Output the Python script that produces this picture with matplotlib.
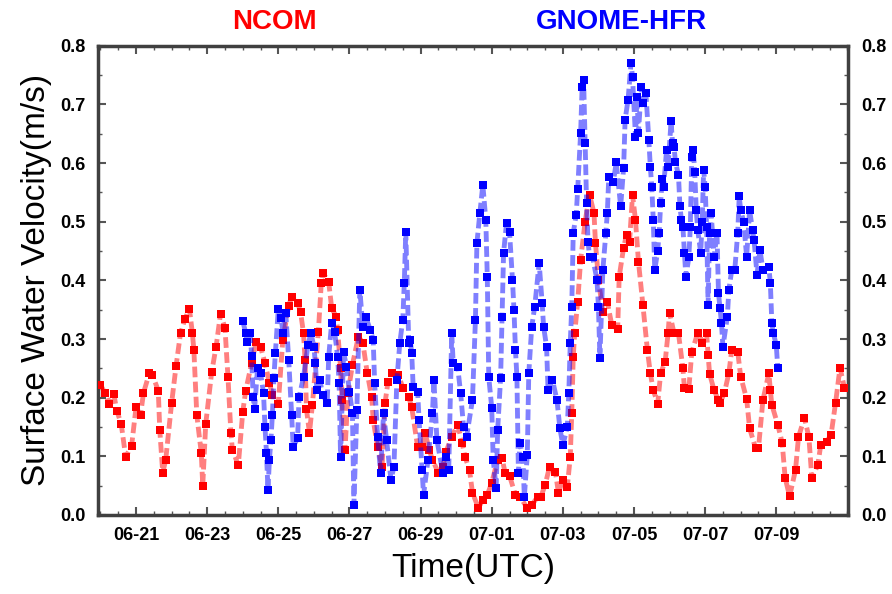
import numpy as np
import matplotlib
matplotlib.use('Agg')
import matplotlib.pyplot as plt
from matplotlib.ticker import MultipleLocator, FormatStrFormatter

plt.rcParams['font.family'] = ['Liberation Sans', 'DejaVu Sans']

# hours since 06-21 00:00 UTC, speed in m/s
ncom_hours = [-24, -21, -18, -15, -13, -10, -7, -3, 0, 3,
              5, 9, 11, 15, 16, 18, 20, 24, 27, 30,
              33, 36, 38, 39, 41, 44, 45, 47, 51, 54,
              57, 60, 62, 64, 65, 69, 72, 74, 78, 81,
              84, 87, 90, 92, 96, 99, 103, 105, 109, 111,
              113, 114, 115, 117, 119, 123, 125, 126, 130, 132,
              135, 136, 138, 139, 141, 143, 146, 150, 153, 156,
              159, 160, 163, 166, 168, 170, 173, 177, 180, 184,
              186, 190, 193, 195, 198, 200, 204, 207, 209, 213,
              217, 220, 222, 225, 227, 231, 234, 237, 240, 244,
              247, 249, 252, 256, 259, 264, 267, 271, 273, 276,
              279, 283, 285, 288, 291, 293, 294, 295, 296, 298,
              300, 303, 306, 309, 310, 312, 315, 318, 321, 325,
              326, 329, 331, 333, 335, 337, 339, 342, 345, 347,
              349, 352, 354, 357, 359, 360, 363, 366, 369, 370,
              373, 375, 379, 382, 385, 386, 387, 390, 393, 394,
              397, 400, 402, 406, 408, 412, 414, 418, 420, 423,
              427, 428, 429, 433, 436, 438, 441, 445, 447, 451,
              454, 456, 460, 462, 466, 469, 472, 475, 478]
ncom_speed = [0.222, 0.208, 0.190, 0.206, 0.178, 0.155, 0.099, 0.118, 0.184, 0.170,
              0.208, 0.242, 0.239, 0.212, 0.145, 0.072, 0.094, 0.191, 0.254, 0.310,
              0.334, 0.352, 0.310, 0.282, 0.170, 0.106, 0.050, 0.155, 0.243, 0.287,
              0.343, 0.319, 0.236, 0.140, 0.111, 0.085, 0.176, 0.212, 0.259, 0.295,
              0.287, 0.259, 0.225, 0.205, 0.190, 0.298, 0.357, 0.372, 0.362, 0.346,
              0.310, 0.265, 0.180, 0.140, 0.188, 0.312, 0.396, 0.413, 0.397, 0.353,
              0.338, 0.316, 0.250, 0.196, 0.110, 0.208, 0.256, 0.304, 0.294, 0.242,
              0.201, 0.162, 0.116, 0.082, 0.191, 0.227, 0.242, 0.239, 0.217, 0.201,
              0.184, 0.116, 0.116, 0.140, 0.110, 0.094, 0.072, 0.082, 0.107, 0.133,
              0.154, 0.123, 0.099, 0.077, 0.038, 0.012, 0.026, 0.034, 0.055, 0.094,
              0.097, 0.072, 0.067, 0.034, 0.031, 0.012, 0.017, 0.031, 0.030, 0.051,
              0.082, 0.073, 0.038, 0.060, 0.048, 0.099, 0.174, 0.270, 0.310, 0.363,
              0.435, 0.500, 0.546, 0.515, 0.464, 0.401, 0.346, 0.363, 0.324, 0.317,
              0.406, 0.456, 0.478, 0.466, 0.546, 0.503, 0.432, 0.358, 0.282, 0.242,
              0.213, 0.190, 0.242, 0.261, 0.310, 0.345, 0.310, 0.310, 0.250, 0.217,
              0.215, 0.278, 0.310, 0.294, 0.310, 0.273, 0.241, 0.213, 0.196, 0.191,
              0.208, 0.242, 0.282, 0.278, 0.236, 0.198, 0.148, 0.114, 0.114, 0.196,
              0.242, 0.213, 0.188, 0.154, 0.123, 0.063, 0.032, 0.077, 0.133, 0.166,
              0.133, 0.063, 0.085, 0.119, 0.125, 0.137, 0.191, 0.251, 0.217]

hfr_hours = [72, 74, 75, 77, 78, 79, 80, 82, 84, 86,
             87, 88, 89, 90, 91, 92, 93, 94, 96, 98,
             99, 101, 103, 105, 106, 109, 110, 113, 116, 118,
             120, 121, 122, 124, 126, 129, 130, 132, 134, 136,
             137, 138, 140, 142, 144, 146, 147, 149, 151, 153,
             155, 158, 160, 161, 163, 165, 167, 169, 172, 174,
             176, 178, 180, 181, 182, 184, 185, 186, 187, 190,
             191, 193, 194, 197, 200, 201, 203, 207, 209, 211,
             213, 214, 217, 219, 221, 223, 227, 229, 230, 232,
             234, 236, 237, 238, 240, 241, 243, 244, 246, 247,
             248, 250, 252, 254, 255, 256, 257, 258, 259, 261,
             262, 264, 265, 267, 269, 272, 274, 275, 277, 278,
             281, 284, 286, 288, 291, 292, 293, 294, 295, 297,
             298, 300, 301, 302, 303, 304, 305, 306, 308, 311,
             312, 313, 315, 317, 318, 319, 322, 324, 327, 329,
             330, 332, 334, 335, 337, 338, 339, 341, 342, 344,
             346, 347, 348, 349, 350, 352, 353, 354, 355, 356,
             358, 359, 361, 362, 363, 364, 366, 367, 368, 369,
             370, 371, 373, 374, 375, 376, 377, 378, 379, 381,
             382, 383, 384, 385, 386, 387, 388, 389, 390, 392,
             393, 394, 395, 396, 399, 400, 402, 404, 406, 407,
             408, 410, 412, 414, 416, 417, 419, 421, 423, 427,
             428, 429, 430, 432, 433]
hfr_speed = [0.331, 0.310, 0.295, 0.310, 0.271, 0.201, 0.181, 0.251, 0.242, 0.208,
             0.150, 0.106, 0.043, 0.094, 0.128, 0.171, 0.234, 0.276, 0.352, 0.336,
             0.310, 0.345, 0.265, 0.170, 0.116, 0.131, 0.201, 0.235, 0.290, 0.310,
             0.287, 0.259, 0.213, 0.230, 0.205, 0.191, 0.270, 0.328, 0.312, 0.270,
             0.225, 0.099, 0.278, 0.253, 0.210, 0.174, 0.017, 0.179, 0.384, 0.321,
             0.338, 0.316, 0.299, 0.225, 0.133, 0.072, 0.174, 0.128, 0.060, 0.082,
             0.230, 0.294, 0.333, 0.396, 0.483, 0.294, 0.299, 0.276, 0.218, 0.210,
             0.162, 0.077, 0.034, 0.094, 0.174, 0.230, 0.128, 0.072, 0.099, 0.077,
             0.310, 0.259, 0.253, 0.208, 0.150, 0.133, 0.196, 0.333, 0.464, 0.515,
             0.563, 0.503, 0.406, 0.235, 0.183, 0.094, 0.046, 0.145, 0.234, 0.338,
             0.447, 0.498, 0.483, 0.401, 0.350, 0.282, 0.235, 0.072, 0.123, 0.099,
             0.031, 0.102, 0.242, 0.321, 0.355, 0.430, 0.362, 0.321, 0.287, 0.213,
             0.230, 0.196, 0.148, 0.119, 0.150, 0.208, 0.294, 0.355, 0.481, 0.512,
             0.555, 0.652, 0.730, 0.742, 0.635, 0.532, 0.466, 0.440, 0.440, 0.401,
             0.355, 0.268, 0.418, 0.481, 0.515, 0.577, 0.567, 0.601, 0.526, 0.592,
             0.674, 0.708, 0.771, 0.747, 0.645, 0.712, 0.652, 0.730, 0.703, 0.720,
             0.640, 0.594, 0.560, 0.503, 0.418, 0.450, 0.481, 0.532, 0.572, 0.560,
             0.623, 0.594, 0.671, 0.635, 0.628, 0.601, 0.580, 0.526, 0.503, 0.491,
             0.447, 0.406, 0.439, 0.491, 0.611, 0.623, 0.584, 0.520, 0.486, 0.447,
             0.500, 0.589, 0.560, 0.491, 0.358, 0.481, 0.515, 0.481, 0.439, 0.481,
             0.379, 0.353, 0.328, 0.287, 0.338, 0.384, 0.418, 0.418, 0.481, 0.543,
             0.520, 0.500, 0.440, 0.520, 0.486, 0.469, 0.410, 0.452, 0.418, 0.422,
             0.396, 0.328, 0.310, 0.290, 0.251]

tick_hours = [0, 48, 96, 144, 192, 240, 288, 336, 384, 432]
tick_labels = ['06-21', '06-23', '06-25', '06-27', '06-29',
               '07-01', '07-03', '07-05', '07-07', '07-09']

fig = plt.figure(figsize=(8.92, 5.94), dpi=100)
ax = fig.add_axes([0.110, 0.133, 0.841, 0.790])

dash = (0, (2.2, 0.9))
ax.plot(ncom_hours, ncom_speed, color='red', alpha=0.5, lw=3.5, ls=dash, zorder=2)
ax.plot(ncom_hours, ncom_speed, 's', color='red', ms=5.5, mew=0, zorder=3)
ax.plot(hfr_hours, hfr_speed, color='blue', alpha=0.5, lw=3.5, ls=dash, zorder=4)
ax.plot(hfr_hours, hfr_speed, 's', color='blue', ms=5.5, mew=0, zorder=5)

ax.set_xlim(-25.6, 480.6)
ax.set_ylim(0, 0.8)
ax.set_xticks(tick_hours)
ax.set_xticklabels(tick_labels)
ax.xaxis.set_minor_locator(MultipleLocator(12))
ax.yaxis.set_major_locator(MultipleLocator(0.1))
ax.yaxis.set_minor_locator(MultipleLocator(0.05))
ax.yaxis.set_major_formatter(FormatStrFormatter('%.1f'))

for sp in ax.spines.values():
    sp.set_linewidth(2.5)
    sp.set_color('#404040')
ax.tick_params(which='both', direction='in', top=True, right=True,
               labelright=True, color='#555555', labelsize=13)
ax.tick_params(which='major', length=6, width=1.5, pad=9)
ax.tick_params(which='minor', length=3, width=1)
for t in ax.xaxis.get_major_ticks() + ax.yaxis.get_major_ticks():
    t.label1.set_fontweight('bold')
    t.label2.set_fontweight('bold')

ax.set_xlabel('Time(UTC)', fontsize=24, labelpad=6)
ax.set_ylabel('Surface Water Velocity(m/s)', fontsize=24, labelpad=6)

fig.text(0.308, 0.963, 'NCOM', color='red', fontsize=20, fontweight='bold',
         ha='center', va='center')
fig.text(0.697, 0.963, 'GNOME-HFR', color='blue', fontsize=20, fontweight='bold',
         ha='center', va='center')

fig.savefig('out.png', dpi=100)
